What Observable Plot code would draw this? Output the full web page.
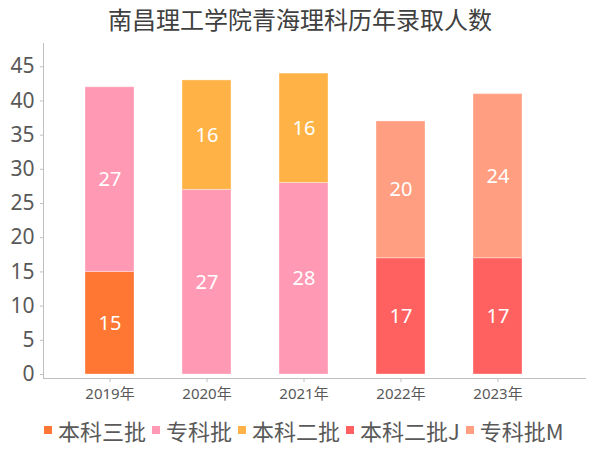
<!DOCTYPE html>
<html>
<head>
<meta charset="utf-8">
<script src="https://cdn.jsdelivr.net/npm/d3@7"></script>
<script src="https://cdn.jsdelivr.net/npm/@observablehq/plot@0.6"></script>
<style>
  body { margin: 0; background: #fff; font-family: "Noto Sans", "Noto Sans CJK SC", sans-serif; }
  #wrap { width: 600px; height: 450px; overflow: hidden; }
  #title { height: 40px; line-height: 38px; text-align: center; font-size: 24px; color: #404040; font-family: "Noto Sans CJK SC", sans-serif; }
  #legend { height: 40px; display: flex; align-items: center; padding-left: 44px; font-size: 22px; color: #595959; font-family: "Noto Sans CJK SC", sans-serif; }
  .item { display: flex; align-items: center; margin-right: 6px; }
  .sw { width: 8px; height: 8px; margin-right: 6px; }
</style>
</head>
<body>
<div id="wrap">
  <div id="title">南昌理工学院青海理科历年录取人数</div>
  <div id="chart"></div>
  <div id="legend"></div>
</div>
<script>
const years = ["2019年", "2020年", "2021年", "2022年", "2023年"];
const series = ["本科三批", "专科批", "本科二批", "本科二批J", "专科批M"];
const colors = ["#FF7733", "#FF99B4", "#FFB347", "#FF6060", "#FF9E80"];
const v本科三批 = [15, null, null, null, null];
const v专科批 = [27, 27, 28, null, null];
const v本科二批 = [null, 16, 16, null, null];
const v本科二批J = [null, null, null, 17, 17];
const v专科批M = [null, null, null, 20, 24];
const yTicks = [0, 5, 10, 15, 20, 25, 30, 35, 40, 45];

const valueSets = [v本科三批, v专科批, v本科二批, v本科二批J, v专科批M];
const data = [];
years.forEach((yr, i) => {
  let base = 0;
  series.forEach((s, j) => {
    const v = valueSets[j][i];
    if (v != null) {
      data.push({year: yr, series: s, value: v, lo: base, hi: base + v, mid: base + v / 2});
      base += v;
    }
  });
});

const chart = Plot.plot({
  width: 600,
  height: 370,
  marginTop: 3,
  marginLeft: 43,
  marginRight: 15,
  marginBottom: 32,
  style: {fontFamily: '"Noto Sans", "Noto Sans CJK SC", sans-serif', background: "#fff"},
  x: {type: "band", domain: years, paddingInner: 0.5, paddingOuter: 0.51, align: 0.38, insetLeft: 3, label: null},
  y: {domain: [0, 48.4], insetBottom: 4, label: null},
  color: {domain: series, range: colors},
  marks: [
    Plot.rectY(data, {x: "year", y1: "lo", y2: "hi", fill: "series", stroke: "#fff", strokeOpacity: 0.35, strokeWidth: 1}),
    Plot.text(data, {x: "year", y: "mid", text: d => String(d.value), fill: "#fff", fontSize: 20}),
    Plot.axisY({ticks: yTicks, tickSize: 3, tickPadding: 6, fontSize: 21, color: "#595959", stroke: "#bfbfbf", label: null}),
    Plot.axisX({tickSize: 4, tickPadding: 6, fontSize: 15, color: "#595959", stroke: "#bfbfbf", label: null}),
    Plot.frame({anchor: "left", stroke: "#bfbfbf"}),
    Plot.frame({anchor: "bottom", stroke: "#bfbfbf"})
  ]
});
document.getElementById("chart").appendChild(chart);

const legend = document.getElementById("legend");
series.forEach((s, j) => {
  const it = document.createElement("div");
  it.className = "item";
  const sw = document.createElement("span");
  sw.className = "sw";
  sw.style.background = colors[j];
  const t = document.createElement("span");
  t.textContent = s;
  it.appendChild(sw); it.appendChild(t);
  legend.appendChild(it);
});
</script>
</body>
</html>
